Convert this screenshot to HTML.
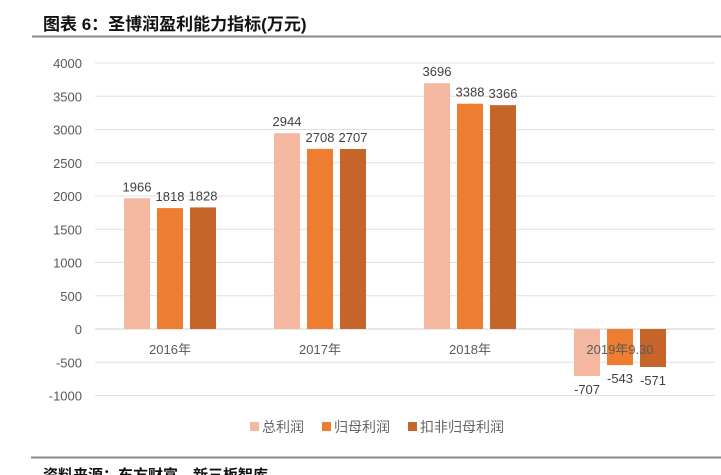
<!DOCTYPE html>
<html><head><meta charset="utf-8"><style>
body{margin:0;background:#fff;width:721px;height:475px;overflow:hidden;font-family:"Liberation Sans","Noto Sans CJK SC",sans-serif;}
</style></head><body>
<svg width="721" height="475" id="c" style="position:absolute;left:0;top:0">
<text x="43" y="30" font-size="17" font-weight="bold" fill="#111" font-family="Liberation Sans,Noto Sans CJK SC,sans-serif">图表 6：圣博润盈利能力指标(万元)</text>
<line x1="32" y1="36.5" x2="721" y2="36.5" stroke="#888" stroke-width="2"/>
<line x1="31" y1="457.5" x2="721" y2="457.5" stroke="#888" stroke-width="2"/>
<text x="43" y="480" font-size="15" font-weight="bold" fill="#111">资料来源：东方财富，新三板智库</text>
<g id="grid"></g><g id="bars"></g><g id="cats"></g>
<g font-size="14" fill="#666">
<rect x="250" y="422" width="9" height="9" fill="#F4B8A0"/>
<text x="262" y="432">总利润</text>
<rect x="322" y="422" width="9" height="9" fill="#ED7D31"/>
<text x="334" y="432">归母利润</text>
<rect x="408" y="422" width="9" height="9" fill="#C5652A"/>
<text x="420" y="432">扣非归母利润</text>
</g>
</svg>
<script>
const categories=["2016年","2017年","2018年","2019年9.30"];
const totalProfit=[1966,2944,3696,-707];
const parentProfit=[1818,2708,3388,-543];
const nonRecurringProfit=[1828,2707,3366,-571];
const ticks=[4000,3500,3000,2500,2000,1500,1000,500,0,-500,-1000];
const seriesColors=["#F4B8A0","#ED7D31","#C5652A"];
const ns="http://www.w3.org/2000/svg";
const y=v=>329-v*0.0665;
const x0=95,band=150;
const cx=i=>x0+band*(i+0.5);
const grid=document.getElementById('grid'),bars=document.getElementById('bars'),cats=document.getElementById('cats');
function mk(tag,attrs,parent){const e=document.createElementNS(ns,tag);for(const k in attrs)e.setAttribute(k,attrs[k]);parent.appendChild(e);return e;}
ticks.forEach(t=>{
  const l=mk('line',{x1:x0,x2:715,y1:y(t),y2:y(t),stroke:t===0?'#d0d0d0':'#e0e0e0','stroke-width':1},grid);
  
  
  const tx=mk('text',{x:82,y:y(t)+5,'text-anchor':'end','font-size':13,fill:'#595959'},grid);
  
  
  tx.textContent=t;
});
categories.forEach((c,i)=>{
  const tx=mk('text',{x:cx(i),y:354,'text-anchor':'middle','font-size':13,fill:'#595959'},cats);
  
  
  tx.textContent=c;
});
const series=[totalProfit,parentProfit,nonRecurringProfit];
series.forEach((s,j)=>{
  s.forEach((v,i)=>{
    const bx=cx(i)-13+(j-1)*33;
    const top=Math.min(y(v),y(0)),h=Math.abs(y(v)-y(0));
    const r=mk('rect',{x:bx,y:top,width:26,height:h,fill:seriesColors[j]},bars);
    
    
    const ly=v>=0?y(v)-7:y(v)+18;
    const t=mk('text',{x:bx+13,y:ly,'text-anchor':'middle','font-size':13,fill:'#404040'},bars);
    
    
    t.textContent=v;
  });
});
</script>
</body></html>
